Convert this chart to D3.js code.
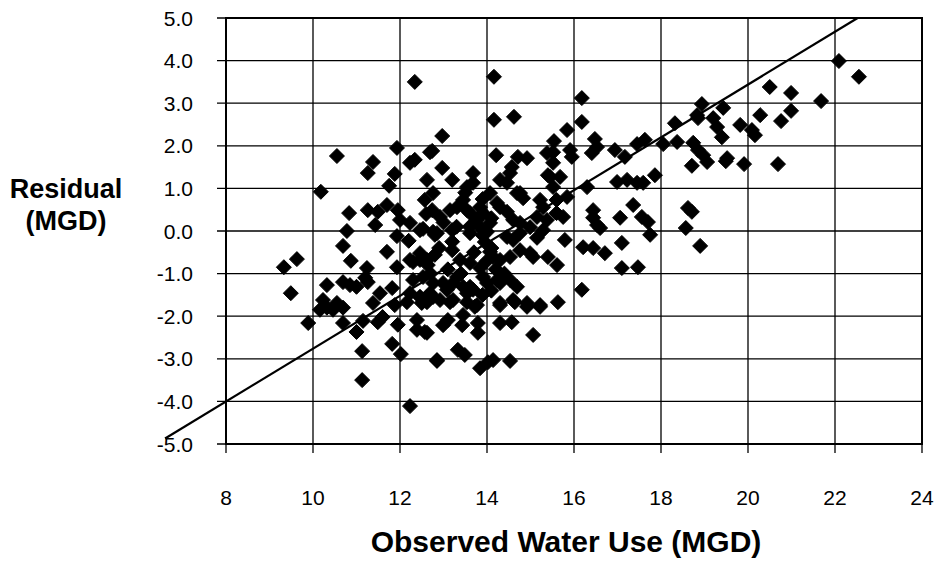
<!DOCTYPE html>
<html>
<head>
<meta charset="utf-8">
<script src="https://cdn.jsdelivr.net/npm/d3@7"></script>
<style>
  html, body { margin: 0; padding: 0; background: #fff; }
  svg { display: block; }
  text { font-family: Arial, "Liberation Sans", Helvetica, sans-serif; fill: #000; }
</style>
</head>
<body>
<div id="chart"></div>
<script>
// tick labels
const xTicks = [8, 10, 12, 14, 16, 18, 20, 22, 24];
const yTicks = [5, 4, 3, 2, 1, 0, -1, -2, -3, -4, -5];
const yTickLabels = ["5.0", "4.0", "3.0", "2.0", "1.0", "0.0", "-1.0", "-2.0", "-3.0", "-4.0", "-5.0"];

// observed water use (MGD) and residual (MGD)
const observed = [
  12.34, 14.16, 16.18, 14.16, 14.62, 16.18, 15.84, 15.54, 12.97, 12.74,
  16.48, 16.53, 16.94, 17.45, 17.63, 18.05, 18.32, 18.37, 14.21, 14.71,
  14.92, 15.38, 15.52, 15.91, 15.95, 16.41, 22.09, 22.55, 20.50, 20.99,
  21.68, 20.28, 20.99, 20.76, 19.82, 20.09, 20.16, 19.43, 19.20, 19.29,
  19.40, 18.94, 18.83, 18.85, 18.74, 18.85, 18.97, 19.52, 18.71, 19.06,
  19.49, 19.91, 20.69, 18.62, 18.71, 18.57, 18.90,
  10.55, 11.38, 11.93, 12.34, 12.23, 11.26, 11.88, 12.62, 11.75, 10.18,
  11.26, 11.49, 11.70, 11.95, 10.83, 11.43, 12.00, 12.23, 12.53, 12.76,
  10.78, 11.93, 12.20, 10.69, 11.70, 10.87, 9.63, 9.33, 11.24, 11.93,
  12.30, 12.46, 12.64, 9.49, 10.32, 10.69, 10.85, 11.00, 11.20, 11.26,
  11.54, 11.82, 11.38, 10.23, 10.55, 12.46, 12.69, 12.23,
  9.89, 10.16, 10.32, 10.46, 10.69, 10.69, 11.00, 11.15, 11.49, 11.60,
  11.95, 11.88, 12.16, 12.39, 12.39, 12.62, 12.50, 11.13, 11.82, 12.02,
  12.85, 11.13, 12.23,
  12.62, 13.15, 13.54, 13.72, 14.30, 14.64, 14.92, 15.22, 15.63, 12.57,
  12.99, 13.10, 13.45, 13.43, 13.79, 13.79, 14.30, 14.57, 15.06, 12.85,
  13.33, 13.49, 13.84, 14.02, 14.14, 14.53,
  12.69, 15.52, 17.17, 12.97, 13.68, 13.20, 14.30, 14.46, 14.57, 15.40,
  15.52, 16.30, 16.99, 17.22, 17.45, 17.59, 17.86, 13.54, 13.68, 12.76,
  14.07, 14.69, 14.83, 15.22, 15.29, 15.60, 15.75, 16.44, 16.44, 16.53,
  16.60, 17.06, 17.36, 17.56, 17.70, 17.75,
  12.57, 12.74, 12.92, 13.15, 13.31, 13.45, 13.61, 13.77, 13.91, 14.07,
  14.30, 14.46, 14.60, 14.76, 14.99, 15.15, 15.29, 15.38,
  12.46, 12.80, 13.20, 13.61, 13.84, 14.00, 13.95, 14.46, 14.60, 14.76,
  15.15, 15.79, 16.21, 16.44, 16.71, 17.10,
  12.62, 12.80, 13.20, 13.38, 13.61, 13.84, 14.07, 14.30, 14.53, 14.76,
  14.99, 15.06, 15.40, 15.61, 17.10, 17.47,
  12.53, 12.76, 13.08, 13.22, 13.45, 13.68, 13.91, 14.00, 14.30, 14.53,
  14.69, 12.62, 12.92, 13.22, 13.54, 13.77, 14.92, 15.22, 16.18,
  14.53, 15.45, 15.68, 13.54, 13.84, 14.23, 14.76, 15.60, 15.84, 12.85,
  12.23, 12.46, 14.14, 12.30, 12.99, 13.31, 13.61, 14.23, 12.46, 12.76,
  13.54, 14.30, 14.60,
  13.00, 13.30, 13.90, 14.10, 14.20, 14.40, 13.70, 13.10, 13.40, 12.90,
  13.60, 14.10, 14.00, 13.20, 12.70, 13.90, 14.10, 12.60, 13.50, 13.90
];
const residual = [
  3.50, 3.62, 3.12, 2.61, 2.68, 2.56, 2.37, 2.11, 2.23, 1.88,
  2.16, 1.97, 1.90, 2.04, 2.14, 2.04, 2.53, 2.09, 1.78, 1.74,
  1.71, 1.83, 1.85, 1.90, 1.74, 1.83, 3.99, 3.62, 3.38, 3.24,
  3.05, 2.72, 2.82, 2.58, 2.49, 2.37, 2.25, 2.89, 2.65, 2.44,
  2.20, 2.98, 2.72, 2.65, 2.07, 1.90, 1.78, 1.71, 1.53, 1.62,
  1.64, 1.57, 1.57, 0.54, 0.45, 0.07, -0.35,
  1.76, 1.62, 1.95, 1.67, 1.60, 1.36, 1.34, 1.20, 1.06, 0.92,
  0.49, 0.45, 0.61, 0.49, 0.42, 0.14, 0.26, 0.19, 0.05, -0.02,
  0.00, -0.12, -0.23, -0.35, -0.49, -0.70, -0.66, -0.85, -0.87, -0.85,
  -0.73, -0.68, -0.80, -1.46, -1.27, -1.20, -1.27, -1.31, -1.10, -1.20,
  -1.46, -1.34, -1.69, -1.62, -1.69, -1.55, -1.46, -1.46,
  -2.16, -1.85, -1.80, -1.85, -1.80, -2.16, -2.37, -2.11, -2.14, -2.02,
  -2.20, -1.74, -1.67, -2.09, -2.32, -2.39, -1.69, -2.82, -2.65, -2.89,
  -3.03, -3.50, -4.11,
  -1.67, -1.67, -1.67, -1.78, -1.74, -1.67, -1.78, -1.78, -1.67, -2.37,
  -2.21, -2.09, -1.97, -2.21, -2.16, -2.39, -2.16, -2.14, -2.44, -3.05,
  -2.79, -2.91, -3.22, -3.08, -3.03, -3.05,
  1.85, 1.60, 1.74, 1.48, 1.36, 1.20, 1.20, 1.13, 1.50, 1.31,
  1.03, 1.03, 1.15, 1.20, 1.13, 1.13, 1.31, 1.03, 1.13, 0.89,
  0.89, 0.89, 0.77, 0.73, 0.56, 0.42, 0.33, 0.49, 0.31, 0.14,
  0.07, 0.31, 0.61, 0.33, 0.21, -0.09,
  0.73, 0.49, 0.33, 0.49, 0.56, 0.73, 0.42, 0.26, 0.42, 0.19,
  0.56, 0.45, 0.26, 0.19, 0.09, 0.33, 0.02, 0.26,
  0.02, -0.09, 0.02, -0.05, 0.09, -0.02, -0.26, -0.14, -0.21, -0.05,
  -0.16, -0.21, -0.38, -0.40, -0.52, -0.28,
  -0.68, -0.56, -0.45, -0.68, -0.75, -0.87, -0.49, -0.68, -0.61, -0.45,
  -0.52, -0.61, -0.61, -0.80, -0.87, -0.85,
  -1.08, -1.22, -1.38, -1.22, -1.31, -1.38, -1.08, -1.22, -1.22, -1.15,
  -1.31, -1.55, -1.62, -1.62, -1.46, -1.74, -1.69, -1.74, -1.38,
  1.36, 1.27, 1.27, 0.49, 0.56, 0.66, 0.89, 0.73, 0.80, -0.05,
  -0.68, -0.52, -0.61, -1.15, -1.22, -1.08, -1.31, -1.15, -1.55, -1.55,
  -1.38, -1.69, -1.62,
  0.20, 0.10, -0.10, -0.40, -0.90, -1.00, -0.50, -0.90, -1.00, -0.40,
  0.10, 0.30, -0.70, -0.25, -1.00, -1.50, -1.40, 0.40, 0.90, 0.75
];

// trend line end points (observed, residual)
const trendX = [6.6, 22.52];
const trendY = [-4.87, 5.0];

const width = 937, height = 561;
const plot = { left: 226, right: 922, top: 18, bottom: 444 };

const svg = d3.select("#chart").append("svg")
  .attr("width", width)
  .attr("height", height);

const x = d3.scaleLinear().domain([8, 24]).range([plot.left, plot.right]);
const y = d3.scaleLinear().domain([-5, 5]).range([plot.bottom, plot.top]);

// grid + outside tick marks
svg.append("g")
  .selectAll("line")
  .data(xTicks)
  .join("line")
  .attr("x1", d => x(d)).attr("x2", d => x(d))
  .attr("y1", plot.top).attr("y2", plot.bottom + 9)
  .attr("stroke", "#000").attr("stroke-width", 1.3);

svg.append("g")
  .selectAll("line")
  .data(yTicks)
  .join("line")
  .attr("x1", plot.left - 9).attr("x2", plot.right)
  .attr("y1", d => y(d)).attr("y2", d => y(d))
  .attr("stroke", "#000").attr("stroke-width", 1.3);

// plot frame
svg.append("rect")
  .attr("x", plot.left).attr("y", plot.top)
  .attr("width", plot.right - plot.left).attr("height", plot.bottom - plot.top)
  .attr("fill", "none").attr("stroke", "#000").attr("stroke-width", 2);

// tick labels
svg.append("g")
  .selectAll("text")
  .data(yTicks)
  .join("text")
  .attr("x", 193)
  .attr("y", d => y(d))
  .attr("dy", "0.36em")
  .attr("text-anchor", "end")
  .style("font-size", "21px")
  .text((d, i) => yTickLabels[i]);

svg.append("g")
  .selectAll("text")
  .data(xTicks)
  .join("text")
  .attr("x", d => x(d))
  .attr("y", 497)
  .attr("dy", "0.36em")
  .attr("text-anchor", "middle")
  .style("font-size", "21px")
  .text(d => d);

// trend line
svg.append("line")
  .attr("x1", x(trendX[0])).attr("y1", y(trendY[0]))
  .attr("x2", x(trendX[1])).attr("y2", y(trendY[1]))
  .attr("stroke", "#000").attr("stroke-width", 2.2);

// points
const diamond = "M0,-7.5L7.5,0L0,7.5L-7.5,0Z";
svg.append("g")
  .selectAll("path")
  .data(observed.map((d, i) => [d, residual[i]]))
  .join("path")
  .attr("transform", d => `translate(${x(d[0])},${y(d[1])})`)
  .attr("d", diamond)
  .attr("fill", "#000")
  .attr("stroke", "#000")
  .attr("stroke-width", 1)
  .attr("stroke-linejoin", "round");

// axis titles
svg.append("text")
  .attr("x", 66).attr("y", 198)
  .attr("text-anchor", "middle")
  .style("font-size", "27px").style("font-weight", "bold")
  .text("Residual");
svg.append("text")
  .attr("x", 66).attr("y", 230)
  .attr("text-anchor", "middle")
  .style("font-size", "27px").style("font-weight", "bold")
  .text("(MGD)");
svg.append("text")
  .attr("x", 566).attr("y", 552)
  .attr("text-anchor", "middle")
  .style("font-size", "30px").style("font-weight", "bold")
  .text("Observed Water Use (MGD)");
</script>
</body>
</html>
